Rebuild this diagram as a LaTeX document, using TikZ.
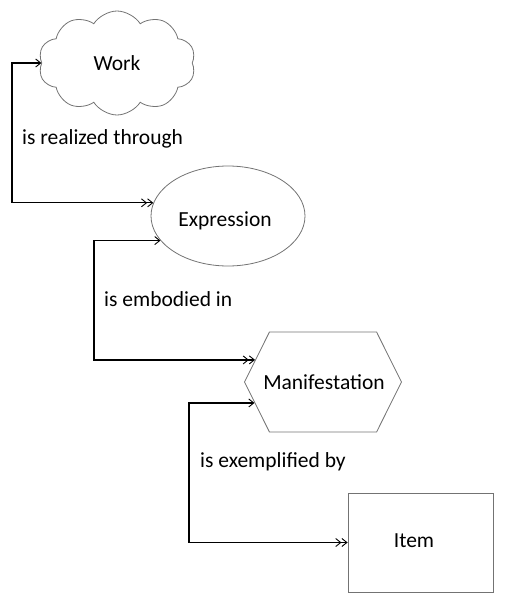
\documentclass[tikz,border=0pt]{standalone}
\usepackage{fontspec}
\setmainfont{Carlito}
\usetikzlibrary{shapes.symbols,shapes.geometric,arrows.meta}
\begin{document}
\begin{tikzpicture}[x=1pt,y=-1pt,
  shapebox/.style={draw=black!55, line width=0.8pt, inner sep=0pt, font=\fontsize{21.5}{25}\selectfont},
  inner/.style={inner sep=0pt, font=\fontsize{21.5}{25}\selectfont},
  conn/.style={draw=black, line width=1.3pt, {Straight Barb[length=5pt,width=8pt,line width=0.9pt]}-{Straight Barb[length=5pt,width=8pt,line width=0.9pt]Straight Barb[length=5pt,width=8pt,line width=0.9pt]}},
  lbl/.style={anchor=west, inner sep=0pt, font=\fontsize{21.5}{25}\selectfont}]
\useasboundingbox (0,0) rectangle (507,605);
\node[shapebox, cloud, cloud puffs=10, cloud puff arc=115, aspect=1.5, minimum width=157pt, minimum height=104pt] (work) at (117,63) {Work};
\node[shapebox, ellipse, minimum width=154pt, minimum height=100pt] (expr) at (228,216) {};
\node[inner] (exprt) at (225,221) {Expression};
\node[shapebox, signal, signal to=east and west, signal pointer angle=127, minimum width=157pt, minimum height=100pt] (manif) at (323,382) {};
\node[inner] (manift) at (324,382) {Manifestation};
\node[shapebox, rectangle, minimum width=145pt, minimum height=99pt] (item) at (420.5,542.5) {};
\node[inner] (itemt) at (414,541) {Item};
\coordinate (x1) at (12,0);
\coordinate (x2) at (94,0);
\coordinate (x3) at (189,0);
\draw[conn] (work.west) -- (work.west -| x1) -- (expr.170 -| x1) -- (expr.170);
\draw[conn] (expr.200) -- (expr.200 -| x2) -- (manif.162 -| x2) -- (manif.162);
\draw[conn] (manif.197) -- (manif.197 -| x3) -- (item.west -| x3) -- (item.west);
\node[lbl] (l1) at (22,139) {is realized through};
\node[lbl] (l2) at (104,299) {is embodied in};
\node[lbl] (l3) at (200,462) {is exemplified by};
\end{tikzpicture}
\end{document}
